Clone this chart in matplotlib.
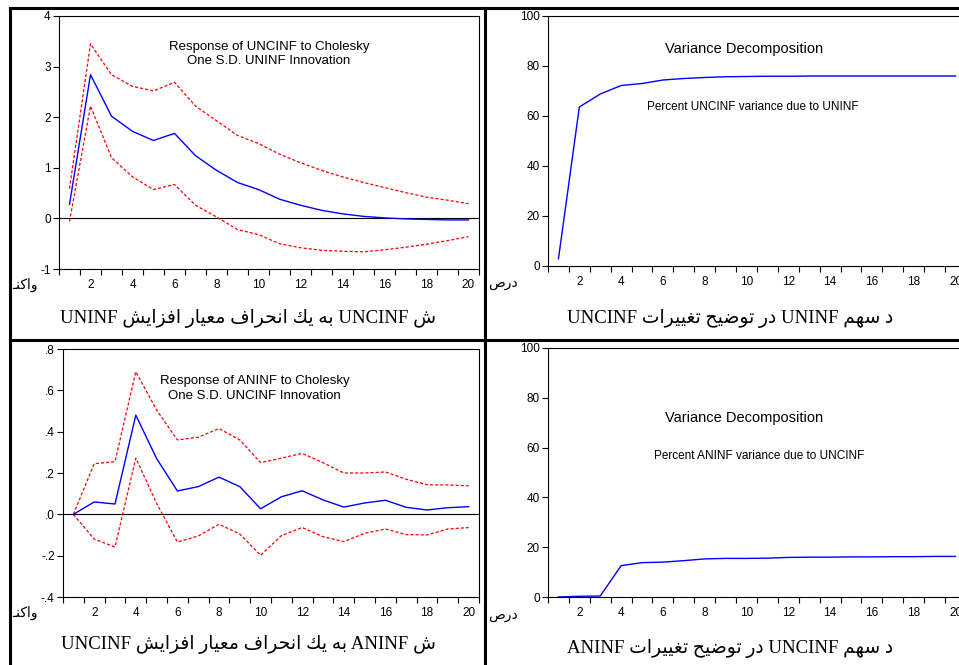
import re
import numpy as np
import matplotlib
matplotlib.use('Agg')
import matplotlib.pyplot as plt
from matplotlib.lines import Line2D
from matplotlib.ticker import MultipleLocator, FixedLocator

# --- data ---
periodos = np.arange(1, 21)

irf1 = [0.28, 2.84, 2.02, 1.72, 1.54, 1.68, 1.24, 0.95, 0.71, 0.57,
        0.38, 0.26, 0.16, 0.09, 0.04, 0.01, -0.01, -0.02, -0.03, -0.03]
irf1_sup = [0.59, 3.45, 2.84, 2.61, 2.52, 2.69, 2.22, 1.93, 1.64, 1.48,
            1.27, 1.10, 0.95, 0.82, 0.71, 0.61, 0.51, 0.42, 0.36, 0.29]
irf1_inf = [-0.06, 2.22, 1.20, 0.82, 0.57, 0.67, 0.26, 0.03, -0.22, -0.32,
            -0.50, -0.58, -0.63, -0.65, -0.66, -0.62, -0.57, -0.51, -0.44, -0.36]

vd1 = [2.9, 63.6, 68.8, 72.2, 73.0, 74.4, 75.0, 75.4, 75.7, 75.8,
       75.9, 75.9, 76.0, 76.0, 76.0, 76.0, 76.0, 76.0, 76.0, 76.0]

irf2 = [0.0, 0.06, 0.05, 0.48, 0.27, 0.113, 0.134, 0.18, 0.134, 0.027,
        0.085, 0.114, 0.07, 0.035, 0.055, 0.068, 0.034, 0.021, 0.032, 0.037]
irf2_sup = [0.0, 0.245, 0.255, 0.69, 0.505, 0.36, 0.373, 0.415, 0.36, 0.25,
            0.272, 0.295, 0.25, 0.20, 0.20, 0.205, 0.17, 0.143, 0.142, 0.138]
irf2_inf = [0.0, -0.12, -0.158, 0.272, 0.053, -0.134, -0.105, -0.048, -0.095, -0.198,
            -0.103, -0.064, -0.108, -0.132, -0.092, -0.071, -0.098, -0.10, -0.071, -0.064]

vd2 = [0.0, 0.3, 0.4, 12.6, 13.8, 14.0, 14.6, 15.3, 15.5, 15.5,
       15.6, 15.9, 16.0, 16.0, 16.1, 16.1, 16.2, 16.2, 16.3, 16.3]

# --- formas de apresentacao arabe (matplotlib nao faz shaping) ---
FORMAS = {
    'ا': (0xFE8D, 0xFE8E, None, None),
    'ب': (0xFE8F, 0xFE90, 0xFE91, 0xFE92),
    'ت': (0xFE95, 0xFE96, 0xFE97, 0xFE98),
    'ح': (0xFEA1, 0xFEA2, 0xFEA3, 0xFEA4),
    'د': (0xFEA9, 0xFEAA, None, None),
    'ر': (0xFEAD, 0xFEAE, None, None),
    'ز': (0xFEAF, 0xFEB0, None, None),
    'س': (0xFEB1, 0xFEB2, 0xFEB3, 0xFEB4),
    'ش': (0xFEB5, 0xFEB6, 0xFEB7, 0xFEB8),
    'ص': (0xFEB9, 0xFEBA, 0xFEBB, 0xFEBC),
    'ض': (0xFEBD, 0xFEBE, 0xFEBF, 0xFEC0),
    'ع': (0xFEC9, 0xFECA, 0xFECB, 0xFECC),
    'غ': (0xFECD, 0xFECE, 0xFECF, 0xFED0),
    'ف': (0xFED1, 0xFED2, 0xFED3, 0xFED4),
    'ك': (0xFED9, 0xFEDA, 0xFEDB, 0xFEDC),
    'م': (0xFEE1, 0xFEE2, 0xFEE3, 0xFEE4),
    'ن': (0xFEE5, 0xFEE6, 0xFEE7, 0xFEE8),
    'ه': (0xFEE9, 0xFEEA, 0xFEEB, 0xFEEC),
    'و': (0xFEED, 0xFEEE, None, None),
    'ی': (0xFBFC, 0xFBFD, 0xFBFE, 0xFBFF),
    'ـ': (0x0640, 0x0640, 0x0640, 0x0640),
}


def moldar(texto):
    saida = []
    for i, c in enumerate(texto):
        if c not in FORMAS:
            saida.append(c)
            continue
        iso, fin, ini, med = FORMAS[c]
        ant = texto[i - 1] if i > 0 else ''
        prox = texto[i + 1] if i + 1 < len(texto) else ''
        liga_ant = ant in FORMAS and FORMAS[ant][2] is not None
        liga_prox = ini is not None and prox in FORMAS
        if liga_ant and liga_prox:
            saida.append(chr(med))
        elif liga_ant:
            saida.append(chr(fin))
        elif liga_prox:
            saida.append(chr(ini))
        else:
            saida.append(chr(iso))
    s = ''.join(saida)[::-1]
    # palavras latinas voltam para a esquerda-direita
    return re.sub(r'[A-Za-z.]+', lambda m: m.group(0)[::-1], s)


legendas = [
    'ش UNCINF به یك انحراف معیار افزایش UNINF',
    'د سهم UNINF در توضیح تغییرات UNCINF',
    'ش ANINF به یك انحراف معیار افزایش UNCINF',
    'د سهم UNCINF در توضیح تغییرات ANINF',
]
rotulo_irf = 'واكنـ'
rotulo_vd = 'درص'

W, H = 959, 665
fig = plt.figure(figsize=(W / 100, H / 100), dpi=100)
fig.patch.set_facecolor('white')

fonte_ticks = {'family': 'Liberation Sans', 'size': 8.5}
fonte_fa = ['Liberation Serif', 'DejaVu Sans']
tracejado = (0, (2.5, 1.6))


def caixa(x0, y0, x1, y1):
    return [x0 / W, 1 - y1 / H, (x1 - x0) / W, (y1 - y0) / H]


def estilo(ax, ylim, yticks, ylabels):
    ax.set_xlim(0.5, 20.5)
    ax.set_ylim(*ylim)
    ax.xaxis.set_major_locator(FixedLocator(range(2, 21, 2)))
    ax.xaxis.set_minor_locator(MultipleLocator(1, offset=0.5))
    ax.tick_params(axis='x', which='major', length=0, pad=7)
    ax.tick_params(axis='x', which='minor', length=4, direction='out', width=0.8)
    ax.set_yticks(yticks)
    ax.set_yticklabels(ylabels)
    ax.tick_params(axis='y', length=4, width=0.8, pad=2)
    for lab in ax.get_xticklabels() + ax.get_yticklabels():
        lab.set_fontfamily(fonte_ticks['family'])
        lab.set_fontsize(fonte_ticks['size'])
    for sp in ax.spines.values():
        sp.set_linewidth(0.8)
    ax.set_facecolor('none')


# topo esquerdo: resposta ao impulso
ax1 = fig.add_axes(caixa(59, 16, 479, 269))
ax1.axhline(0, color='black', lw=0.8)
ax1.plot(periodos, irf1_sup, color='red', lw=0.9, ls=tracejado)
ax1.plot(periodos, irf1_inf, color='red', lw=0.9, ls=tracejado)
ax1.plot(periodos, irf1, color='blue', lw=1.0)
estilo(ax1, (-1, 4), [-1, 0, 1, 2, 3, 4], ['-1', '0', '1', '2', '3', '4'])
ax1.text(0.50, 0.85, 'Response of UNCINF to Cholesky\nOne S.D. UNINF Innovation',
         transform=ax1.transAxes, ha='center', va='center', fontsize=9.5,
         family='Liberation Sans', linespacing=1.3)

# topo direito: decomposicao da variancia
ax2 = fig.add_axes(caixa(548, 16, 966, 266))
ax2.plot(periodos, vd1, color='blue', lw=1.0)
estilo(ax2, (0, 100), [0, 20, 40, 60, 80, 100], ['0', '20', '40', '60', '80', '100'])
ax2.spines['right'].set_visible(False)
ax2.text(0.47, 0.87, 'Variance Decomposition', transform=ax2.transAxes,
         ha='center', va='center', fontsize=10.5, family='Liberation Sans')
ax2.text(0.49, 0.635, 'Percent UNCINF variance due to UNINF', transform=ax2.transAxes,
         ha='center', va='center', fontsize=8.5, family='Liberation Sans')

# baixo esquerdo
ax3 = fig.add_axes(caixa(63, 349, 479, 597))
ax3.axhline(0, color='black', lw=0.8)
ax3.plot(periodos, irf2_sup, color='red', lw=0.9, ls=tracejado)
ax3.plot(periodos, irf2_inf, color='red', lw=0.9, ls=tracejado)
ax3.plot(periodos, irf2, color='blue', lw=1.0)
estilo(ax3, (-0.4, 0.8), [-0.4, -0.2, 0.0, 0.2, 0.4, 0.6, 0.8],
       ['-.4', '-.2', '.0', '.2', '.4', '.6', '.8'])
ax3.text(0.46, 0.84, 'Response of ANINF to Cholesky\nOne S.D. UNCINF Innovation',
         transform=ax3.transAxes, ha='center', va='center', fontsize=9.5,
         family='Liberation Sans', linespacing=1.3)

# baixo direito
ax4 = fig.add_axes(caixa(548, 348, 966, 597))
ax4.plot(periodos, vd2, color='blue', lw=1.0)
estilo(ax4, (0, 100), [0, 20, 40, 60, 80, 100], ['0', '20', '40', '60', '80', '100'])
ax4.spines['right'].set_visible(False)
ax4.text(0.47, 0.72, 'Variance Decomposition', transform=ax4.transAxes,
         ha='center', va='center', fontsize=10.5, family='Liberation Sans')
ax4.text(0.505, 0.565, 'Percent ANINF variance due to UNCINF', transform=ax4.transAxes,
         ha='center', va='center', fontsize=8.5, family='Liberation Sans')

# legendas em persa abaixo de cada painel
posicoes = [(248, 318), (730, 318), (248, 645), (730, 648)]
for txt, (px, py) in zip(legendas, posicoes):
    fig.text(px / W, 1 - py / H, moldar(txt), ha='center', va='center',
             fontsize=13.5, family=fonte_fa)

for px, py, txt in [(12, 285, rotulo_irf), (488, 283, rotulo_vd),
                    (12, 613, rotulo_irf), (488, 615, rotulo_vd)]:
    fig.text(px / W, 1 - py / H, moldar(txt), ha='left', va='center',
             fontsize=10, family=fonte_fa)

# linhas da tabela
linhas = [((10, 959), (8, 8)), ((10, 10), (8, 665)), ((485, 485), (8, 665)),
          ((10, 959), (340, 340))]
for xs, ys in linhas:
    fig.add_artist(Line2D([x / W for x in xs], [1 - y / H for y in ys],
                          color='black', lw=2.2))

fig.savefig('out.png', dpi=100)
